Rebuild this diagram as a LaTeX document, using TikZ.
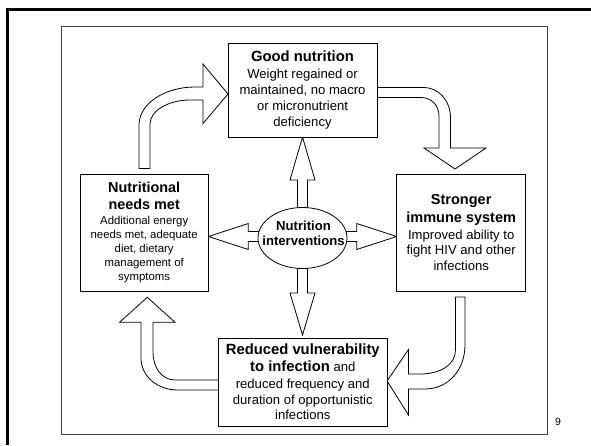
\documentclass[tikz,border=0pt]{standalone}
\usepackage{fontspec}
\setmainfont{Liberation Sans}
\usetikzlibrary{shapes.geometric}
\begin{document}
\begin{tikzpicture}[x=1pt,y=-1pt,
  box/.style={draw,line width=1pt,fill=white,inner sep=0pt,align=center},
  blockarrow/.style={draw,line width=0.8pt,fill=white,line join=miter},
  ]
\useasboundingbox (0,0) rectangle (591,445);
% outer slide frame (top and left only)
\draw[line width=3pt] (7.7,445) -- (7.7,9) -- (591,9);
% inner frame
\draw[line width=1pt,black!75] (61.5,26) rectangle (547,434.5);
% page number
\node[inner sep=0pt] (pg) at (558,422) {\fontsize{10.5}{12}\selectfont 9};

% central block arrows
\draw[blockarrow] (297.5,215) -- (297.5,180) -- (290,180) -- (302.5,137) -- (315,180) -- (307.5,180) -- (307.5,215) -- cycle;
\draw[blockarrow] (297.5,262) -- (297.5,293) -- (290,293) -- (302.5,335) -- (315,293) -- (307.5,293) -- (307.5,262) -- cycle;
\draw[blockarrow] (265,231.5) -- (248.3,231.5) -- (248.3,223.5) -- (208.4,236.5) -- (248.3,249.5) -- (248.3,241.5) -- (265,241.5) -- cycle;
\draw[blockarrow] (340,231.5) -- (356.7,231.5) -- (356.7,223.5) -- (396.7,236.5) -- (356.7,249.5) -- (356.7,241.5) -- (340,241.5) -- cycle;

% curved block arrows
% top-left: needs met -> good nutrition
\draw[blockarrow] (139,168.5) -- (139,125) .. controls (139,104) and (164,87) .. (195,87) -- (203,87) -- (203,64) -- (228,94) -- (203,123.5) -- (203,100) -- (190,100) .. controls (168,100) and (150,111) .. (150,124) -- (150,168.5) -- cycle;
% top-right: good nutrition -> stronger immune system
\draw[blockarrow] (377,87.5) -- (424,87.5) .. controls (438,87.5) and (450.5,100) .. (450.5,118) -- (450.5,148) -- (486,148) -- (455,169) -- (424,148) -- (439,148) -- (439,116) .. controls (439,105) and (431,97.5) .. (421,97.5) -- (377,97.5) -- cycle;
% bottom-right: stronger immune system -> reduced vulnerability
\draw[blockarrow] (465,297) -- (465,345) .. controls (465,370) and (448,389) .. (425,389) -- (408.5,389) -- (408.5,415) -- (387.1,381) -- (408.5,349.5) -- (408.5,374) -- (420,374) .. controls (440,374) and (455.5,365) .. (455.5,350) -- (455.5,297) -- cycle;
% bottom-left: reduced vulnerability -> needs met
\draw[blockarrow] (218.6,380) -- (175,380) .. controls (162,380) and (153,368) .. (153,352) -- (153,322.3) -- (175,322.3) -- (147.3,297.3) -- (119.5,322.3) -- (141,322.3) -- (141,358) .. controls (141,376) and (157,390) .. (178,390) -- (218.6,390) -- cycle;

% central ellipse
\node[ellipse,draw,line width=0.8pt,fill=white,minimum width=89pt,minimum height=61pt,inner sep=0pt] (ni) at (302.5,238) {};
\node[inner sep=0pt,align=center,font=\fontsize{13.1}{15}\selectfont\bfseries] (nit) at (303.5,233) {Nutrition\\interventions};

% boxes
\node[box,minimum width=149pt,minimum height=94pt,font=\fontsize{13.1}{16}\selectfont] (gn) at (302.5,90)
 {{\fontsize{14.8}{17}\selectfont\bfseries Good nutrition}\\[0.7pt]
  Weight regained or\\ maintained, no macro\\ or micronutrient\\ deficiency};

\node[box,minimum width=128.4pt,minimum height=117pt,font=\fontsize{11.4}{14}\selectfont] (nn) at (144.2,232.5)
 {{\fontsize{14.4}{17}\selectfont\bfseries Nutritional}\\[3.7pt]
  {\fontsize{14.4}{17}\selectfont\bfseries needs met}\\[1pt]
  Additional energy\\ needs met, adequate\\ diet, dietary\\ management of\\ symptoms};

\node[box,minimum width=129pt,minimum height=117pt,font=\fontsize{13.1}{15.5}\selectfont] (si) at (461.2,232.5)
 {{\fontsize{14.5}{17}\selectfont\bfseries Stronger}\\[2.2pt]
  {\fontsize{14.5}{17}\selectfont\bfseries immune system}\\[1.2pt]
  Improved ability to\\ fight HIV and other\\ infections};

\node[box,minimum width=168.5pt,minimum height=88pt,font=\fontsize{13.1}{15.5}\selectfont] (rv) at (302.8,382)
 {{\fontsize{14.8}{17}\selectfont\bfseries Reduced vulnerability}\\[1.2pt]
  {\fontsize{14.8}{17}\selectfont\bfseries to infection} and\\[1.5pt]
  reduced frequency and\\ duration of opportunistic\\ infections};
\end{tikzpicture}
\end{document}
